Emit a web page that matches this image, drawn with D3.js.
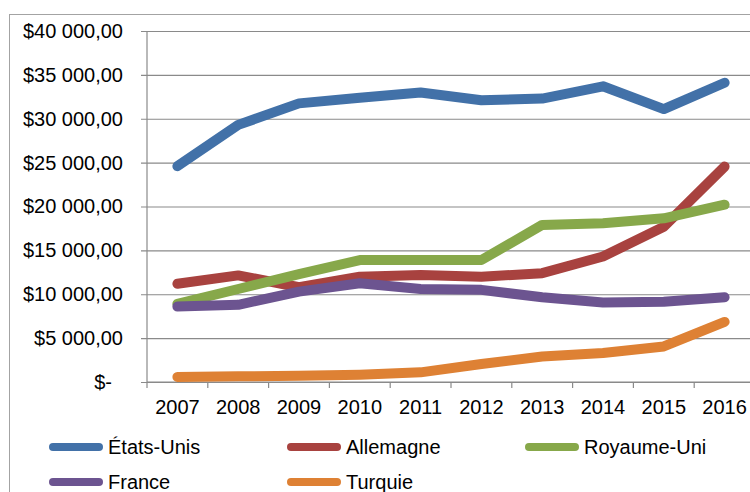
<!DOCTYPE html>
<html>
<head>
<meta charset="utf-8">
<script src="https://cdn.jsdelivr.net/npm/d3@7"></script>
<style>
  body { margin: 0; background: #fff; }
  svg { display: block; font-family: "Liberation Sans", Arial, sans-serif; }
</style>
</head>
<body>
<div id="chart"></div>
<script>
// données
var annees = ["2007", "2008", "2009", "2010", "2011", "2012", "2013", "2014", "2015", "2016"];
var etatsUnis = [24600, 29300, 31750, 32400, 33000, 32100, 32300, 33700, 31100, 34100];
var allemagne = [11200, 12150, 10800, 12000, 12200, 12000, 12400, 14300, 17700, 24550];
var royaumeUni = [8900, 10600, 12300, 13900, 13900, 13900, 17900, 18100, 18650, 20200];
var france = [8600, 8800, 10300, 11250, 10600, 10500, 9650, 9050, 9150, 9650];
var turquie = [580, 650, 700, 830, 1100, 2050, 2900, 3300, 4050, 6850];
var yTicks = [0, 5000, 10000, 15000, 20000, 25000, 30000, 35000, 40000];

var series = [
    { nom: "États-Unis", valeurs: etatsUnis, couleur: "#4271a8" },
    { nom: "Allemagne", valeurs: allemagne, couleur: "#a8423f" },
    { nom: "Royaume-Uni", valeurs: royaumeUni, couleur: "#87a84a" },
    { nom: "France", valeurs: france, couleur: "#6c5490" },
    { nom: "Turquie", valeurs: turquie, couleur: "#de8134" }
];

var width = 750, height = 492;
var plot = { left: 147, right: 755, top: 31, bottom: 382 };

var svg = d3.select("#chart")
    .append("svg")
    .attr("width", width)
    .attr("height", height);

// cadre du graphique
svg.append("rect")
    .attr("x", 9.5)
    .attr("y", 14.5)
    .attr("width", 900)
    .attr("height", 600)
    .style("fill", "none")
    .style("stroke", "#a3a3a3")
    .style("stroke-width", 1);

var x = d3.scaleBand()
    .domain(annees)
    .range([plot.left, plot.right])
    .padding(0);

var y = d3.scaleLinear()
    .domain([0, 40000])
    .range([plot.bottom, plot.top]);

var locale = d3.formatLocale({ decimal: ",", thousands: " ", grouping: [3], currency: ["$", ""] });
var fmt = locale.format(",.2f");

// axe vertical + quadrillage
var yAxis = svg.append("g")
    .attr("transform", "translate(" + plot.left + ",0)")
    .call(d3.axisLeft(y)
        .tickValues(yTicks)
        .tickSize(6)
        .tickPadding(18)
        .tickFormat(function (d) { return d === 0 ? "$-" : "$" + fmt(d); }));

yAxis.select(".domain").remove();
yAxis.selectAll(".tick line")
    .attr("x1", -6)
    .attr("x2", plot.right - plot.left)
    .style("stroke", "#8a8a8a")
    .style("stroke-width", 1.2);
yAxis.selectAll(".tick text")
    .style("font-size", "20px")
    .style("fill", "#000")
    .attr("dx", function (d) { return d === 0 ? -11 : 0; });

svg.append("line")
    .attr("x1", plot.left)
    .attr("x2", plot.left)
    .attr("y1", plot.top)
    .attr("y2", plot.bottom)
    .style("stroke", "#8a8a8a")
    .style("stroke-width", 1.2);

// axe horizontal
var xAxis = svg.append("g")
    .attr("transform", "translate(0," + plot.bottom + ")")
    .call(d3.axisBottom(x).tickSize(0).tickPadding(18));

xAxis.select(".domain").remove();
xAxis.selectAll(".tick text")
    .style("font-size", "20px")
    .style("fill", "#000");

svg.append("line")
    .attr("x1", plot.left)
    .attr("x2", plot.right)
    .attr("y1", plot.bottom)
    .attr("y2", plot.bottom)
    .style("stroke", "#8a8a8a")
    .style("stroke-width", 1.2);

svg.selectAll(".xtick")
    .data(annees)
    .enter()
    .append("line")
    .attr("class", "xtick")
    .attr("x1", function (d) { return x(d); })
    .attr("x2", function (d) { return x(d); })
    .attr("y1", plot.bottom)
    .attr("y2", plot.bottom + 6)
    .style("stroke", "#8a8a8a")
    .style("stroke-width", 1.2);

// courbes
var ligne = d3.line()
    .x(function (d, i) { return x(annees[i]) + x.bandwidth() / 2; })
    .y(function (d) { return y(d); });

series.forEach(function (s) {
    svg.append("path")
        .datum(s.valeurs)
        .attr("d", ligne)
        .style("fill", "none")
        .style("stroke", s.couleur)
        .style("stroke-width", 10)
        .style("stroke-linecap", "round")
        .style("stroke-linejoin", "round");
});

// légende
var legend = svg.append("g").attr("class", "legend");

series.forEach(function (s, i) {
    var lx = 49 + (i % 3) * 238;
    var ly = 447 + Math.floor(i / 3) * 35;

    legend.append("line")
        .attr("x1", lx + 4)
        .attr("x2", lx + 50)
        .attr("y1", ly)
        .attr("y2", ly)
        .style("stroke", s.couleur)
        .style("stroke-width", 8)
        .style("stroke-linecap", "round");

    legend.append("text")
        .attr("x", lx + 59)
        .attr("y", ly)
        .attr("dy", "0.35em")
        .text(s.nom)
        .style("font-size", "20px")
        .style("fill", "#000");
});
</script>
</body>
</html>
